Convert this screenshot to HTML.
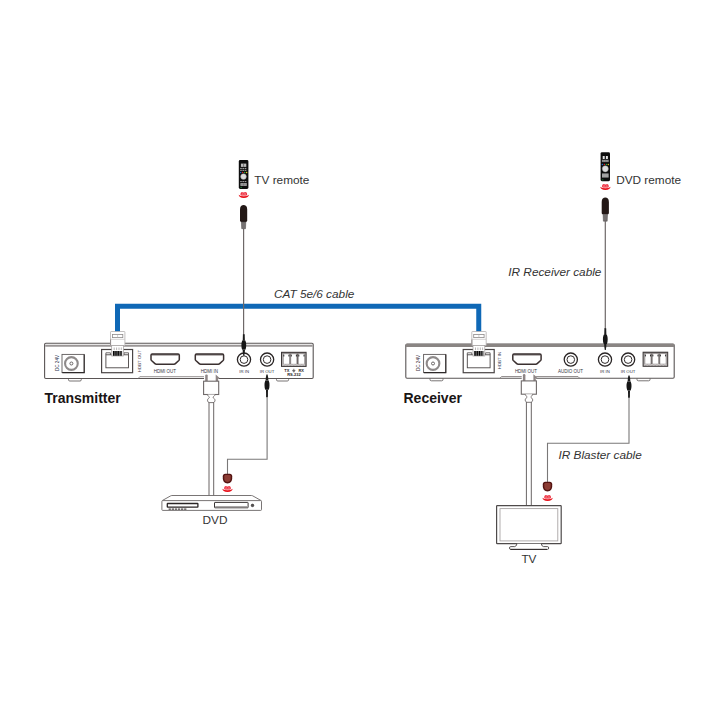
<!DOCTYPE html>
<html><head><meta charset="utf-8">
<style>
html,body{margin:0;padding:0;background:#fff;width:720px;height:720px;overflow:hidden}
svg{display:block}
text{font-family:"Liberation Sans",sans-serif}
</style></head><body>
<svg width="720" height="720" viewBox="0 0 720 720">
<rect width="720" height="720" fill="#fff"/>

<!-- ===== BLUE CAT CABLE ===== -->
<path d="M117.5,332 V306.2 H478.75 V332" fill="none" stroke="#0f68b6" stroke-width="5"/>

<!-- ===== TRANSMITTER ===== -->
<g id="tx">
  <!-- feet -->
  <path d="M68.5,378.5 v1.2 q0,1.3 1.3,1.3 h10.2 q1.3,0 1.3,-1.3 v-1.2" fill="#fff" stroke="#6a6565" stroke-width="0.9"/>
  <path d="M276.5,378.5 v1.2 q0,1.3 1.3,1.3 h9.5 q1.3,0 1.3,-1.3 v-1.2" fill="#fff" stroke="#6a6565" stroke-width="0.9"/>
  <rect x="44.6" y="343.3" width="268.6" height="35.2" rx="1.2" fill="#fff" stroke="#5a5555" stroke-width="1.1"/>
  <line x1="45.2" y1="345.8" x2="312.6" y2="345.8" stroke="#9a9696" stroke-width="1.9"/>
  <!-- bottom recess -->
  <path d="M138.3,378.3 l1.5,-1.6 H216 l1.5,1.6" fill="none" stroke="#8a8585" stroke-width="0.9"/>
  <!-- DC jack -->
  <rect x="62" y="354.4" width="22.2" height="18.2" fill="#fff" stroke="#5e5a5a" stroke-width="0.9"/>
  <path d="M84.2,354.6 V372.6 H62.3" fill="none" stroke="#2e2a2a" stroke-width="1.1"/>
  <circle cx="71.4" cy="363.5" r="6.35" fill="none" stroke="#8e8a8a" stroke-width="2.1"/>
  <circle cx="71.4" cy="363.5" r="1.5" fill="none" stroke="#5a5656" stroke-width="0.9"/>
  <text transform="translate(58.7,363) rotate(-90)" font-size="4.6" fill="#2e3450" text-anchor="middle">DC 24V</text>
  <!-- RJ45 -->
  <rect x="101.6" y="349.5" width="31" height="23.2" fill="#fff" stroke="#4a4545" stroke-width="1.2"/>
  <rect x="105.9" y="354.8" width="22.6" height="13" fill="none" stroke="#4a4545" stroke-width="0.9"/>
  <path d="M105.9,354.8 v-2 h4.5 v2 M128.5,354.8 v-2 h-4.5 v2" fill="none" stroke="#4a4545" stroke-width="0.8"/>
  <text transform="translate(140.8,361) rotate(-90)" font-size="4.4" fill="#3e3040" text-anchor="middle">HDBT OUT</text>
  <!-- RJ45 plug -->
  <use href="#rj45plug" x="0" y="0"/>
  <!-- HDMI OUT -->
  <use href="#hdmiport" x="151" y="0"/>
  <text x="164.8" y="373" font-size="4.5" fill="#34343f" text-anchor="middle">HDMI OUT</text>
  <!-- HDMI IN -->
  <use href="#hdmiport" x="195.3" y="0"/>
  <text x="209.3" y="373" font-size="4.5" fill="#34343f" text-anchor="middle">HDMI IN</text>
  <!-- IR IN / IR OUT -->
  <circle cx="244" cy="359.6" r="6.6" fill="#fff" stroke="#2a2525" stroke-width="1.3"/>
  <circle cx="244" cy="359.6" r="3.8" fill="none" stroke="#302b2b" stroke-width="1"/>
  <text x="244.2" y="373" font-size="4.3" fill="#343445" text-anchor="middle">IR IN</text>
  <circle cx="267.1" cy="359.6" r="6.6" fill="#fff" stroke="#2a2525" stroke-width="1.3"/>
  <circle cx="267.1" cy="359.6" r="3.8" fill="none" stroke="#302b2b" stroke-width="1"/>
  <text x="267" y="373" font-size="4.3" fill="#343445" text-anchor="middle">IR OUT</text>
  <!-- RS232 terminal -->
  <use href="#term" x="281.5" y="352.3"/>
  <text x="286.9" y="371.9" font-size="4" font-weight="bold" fill="#262222" text-anchor="middle">TX</text>
  <path d="M293.8,368.8 v1.6 M292.2,370.4 h3.2 M292.7,371.2 h2.2 M293.2,371.9 h1.2" stroke="#262222" stroke-width="0.6"/>
  <text x="301.2" y="371.9" font-size="4" font-weight="bold" fill="#262222" text-anchor="middle">RX</text>
  <text x="294" y="375.6" font-size="4" font-weight="bold" fill="#262222" text-anchor="middle">RS-232</text>
</g>

<text x="44.5" y="402.5" font-size="14" font-weight="bold" fill="#1a1515">Transmitter</text>

<!-- ===== RECEIVER ===== -->
<g id="rx">
  <path d="M430,378.3 v1.2 q0,1.3 1.3,1.3 h10.4 q1.3,0 1.3,-1.3 v-1.2" fill="#fff" stroke="#6a6565" stroke-width="0.9"/>
  <path d="M637,378.3 v1.2 q0,1.3 1.3,1.3 h10.4 q1.3,0 1.3,-1.3 v-1.2" fill="#fff" stroke="#6a6565" stroke-width="0.9"/>
  <rect x="405.8" y="344" width="268.4" height="34.3" rx="1.2" fill="#fff" stroke="#5a5555" stroke-width="1.1"/>
  <line x1="406" y1="345.4" x2="674" y2="345.4" stroke="#8a8583" stroke-width="3"/>
  <path d="M500,378.1 l1.5,-1.6 H578 l1.5,1.6" fill="none" stroke="#8a8585" stroke-width="0.9"/>
  <!-- DC jack -->
  <rect x="423.6" y="354.4" width="22.2" height="18.2" fill="#fff" stroke="#5e5a5a" stroke-width="0.9"/>
  <path d="M445.8,354.6 V372.6 H423.9" fill="none" stroke="#2e2a2a" stroke-width="1.1"/>
  <circle cx="433.0" cy="363.5" r="6.35" fill="none" stroke="#8e8a8a" stroke-width="2.1"/>
  <circle cx="433.0" cy="363.5" r="1.5" fill="none" stroke="#5a5656" stroke-width="0.9"/>
  <text transform="translate(420,363) rotate(-90)" font-size="4.6" fill="#3e3040" text-anchor="middle">DC 24V</text>
  <!-- RJ45 -->
  <rect x="463.2" y="349.5" width="31" height="23.2" fill="#fff" stroke="#4a4545" stroke-width="1.2"/>
  <rect x="467.3" y="354.8" width="22.8" height="13" fill="none" stroke="#4a4545" stroke-width="0.9"/>
  <path d="M467.3,354.8 v-2 h4.5 v2 M490.1,354.8 v-2 h-4.5 v2" fill="none" stroke="#4a4545" stroke-width="0.8"/>
  <text transform="translate(501.3,360.5) rotate(-90)" font-size="4.4" fill="#2e3450" text-anchor="middle">HDBT IN</text>
  <!-- plug -->
  <use href="#rj45plug" x="361.3" y="0"/>
  <!-- HDMI OUT -->
  <use href="#hdmiport" x="512.8" y="0"/>
  <text x="526" y="373" font-size="4.5" fill="#34343f" text-anchor="middle">HDMI OUT</text>
  <!-- AUDIO OUT -->
  <circle cx="570.8" cy="359.6" r="6.6" fill="#fff" stroke="#2a2525" stroke-width="1.3"/>
  <circle cx="570.8" cy="359.6" r="3.8" fill="none" stroke="#302b2b" stroke-width="1"/>
  <text x="570.6" y="373" font-size="4.5" fill="#34343f" text-anchor="middle">AUDIO OUT</text>
  <circle cx="605" cy="359.6" r="6.6" fill="#fff" stroke="#2a2525" stroke-width="1.3"/>
  <circle cx="605" cy="359.6" r="3.8" fill="none" stroke="#302b2b" stroke-width="1"/>
  <text x="605" y="373" font-size="4.3" fill="#343445" text-anchor="middle">IR IN</text>
  <circle cx="628.1" cy="359.6" r="6.6" fill="#fff" stroke="#2a2525" stroke-width="1.3"/>
  <circle cx="628.1" cy="359.6" r="3.8" fill="none" stroke="#302b2b" stroke-width="1"/>
  <text x="628.1" y="373" font-size="4.3" fill="#343445" text-anchor="middle">IR OUT</text>
  <!-- terminal -->
  <use href="#term" x="643.1" y="352.2"/>
</g>

<text x="403.5" y="402.5" font-size="14" font-weight="bold" fill="#1a1515">Receiver</text>

<defs>
  <g id="hdmiport">
    <path d="M0,355.2 Q0,354.1 1.2,354.1 H27.1 Q28.3,354.1 28.3,355.2 V359.4 Q28.3,360 27.8,360.5 L24.4,363.6 Q23.8,364.2 23,364.2 H5.3 Q4.5,364.2 3.9,363.6 L0.5,360.5 Q0,360 0,359.4 Z" fill="#fff" stroke="#3a3030" stroke-width="1.5"/>
    <path d="M0.8,354.9 H27.5" stroke="#3a3030" stroke-width="0.9"/>
  </g>
  <g id="term">
    <rect x="0" y="0" width="24.6" height="14.1" fill="#b0acac" stroke="#3a3535" stroke-width="1"/>
    <path d="M0.5,0.6 h23.6" stroke="#3a3535" stroke-width="0.6"/>
    <rect x="8" y="1.4" width="1.2" height="10.6" fill="#6a6464"/>
    <rect x="15.5" y="1.4" width="1.2" height="10.6" fill="#6a6464"/>
    <rect x="1.9" y="1.6" width="5.9" height="10.2" fill="#fff" stroke="#8a8585" stroke-width="0.5"/>
    <rect x="9.4" y="1.6" width="5.9" height="10.2" fill="#fff" stroke="#8a8585" stroke-width="0.5"/>
    <rect x="16.9" y="1.6" width="6" height="10.2" fill="#fff" stroke="#8a8585" stroke-width="0.5"/>
    <path d="M2.3,2.4 v1.8 M7.4,2.4 v1.8 M9.8,2.4 v1.8 M14.9,2.4 v1.8 M17.3,2.4 v1.8 M22.5,2.4 v1.8" stroke="#1a1a1a" stroke-width="0.9"/>
    <path d="M1,12.9 q1.6,-1.1 3.2,0 q1.6,-1.1 3.2,0 q1.6,-1.1 3.2,0 q1.6,-1.1 3.2,0 q1.6,-1.1 3.2,0 q1.6,-1.1 3.2,0 q1.6,-1.1 3.2,0" fill="none" stroke="#eeeaea" stroke-width="0.6"/>
  </g>
  <g id="rj45plug">
    <rect x="110.5" y="331.5" width="14.4" height="14" rx="0.6" fill="#fff" stroke="#b4b0b0" stroke-width="0.8"/>
    <rect x="112.4" y="334.4" width="10.4" height="3.2" fill="none" stroke="#8e8a8a" stroke-width="0.8"/>
    <path d="M117.6,334.4 v3.2" stroke="#b0acac" stroke-width="0.6"/>
    <path d="M110.6,339.3 h14.2" stroke="#c4c0c0" stroke-width="0.7"/>
    <path d="M110.6,339.5 v6" stroke="#8a8585" stroke-width="0.9"/>
    <rect x="111.7" y="345.4" width="11.8" height="10.6" fill="#fff" stroke="#a09c9c" stroke-width="0.7"/>
    <path d="M114.2,347.5 v2.6 M116.6,347.5 v2.6 M119,347.5 v2.6 M121.3,347.5 v2.6" stroke="#8a8585" stroke-width="0.6"/>
    <rect x="112.9" y="351" width="9.2" height="4.8" fill="#050505"/>
    <path d="M114.9,351 v4.8 M117.1,351 v4.8 M119.4,351 v4.8 M121,351 v4.8" stroke="#fff" stroke-width="0.45"/>
  </g>
  <g id="remote2">
    <rect x="0" y="0" width="9.4" height="29" rx="1.4" fill="#0e0e0e"/>
    <rect x="2.1" y="3.8" width="2" height="3" fill="#e4e4e4"/>
    <rect x="5.3" y="3.8" width="2" height="3" fill="#e4e4e4"/>
    <rect x="1.3" y="7.5" width="6.8" height="2.4" fill="#777"/>
    <path d="M1.6,8.7 h6.2" stroke="#cfcfcf" stroke-width="0.6" stroke-dasharray="1.2,0.5"/>
    <circle cx="1.8" cy="12.3" r="0.75" fill="#1e70d0"/>
    <circle cx="3.8" cy="12.3" r="0.75" fill="#e02020"/>
    <circle cx="5.8" cy="12.3" r="0.75" fill="#20a040"/>
    <circle cx="7.7" cy="12.3" r="0.75" fill="#e0c020"/>
    <circle cx="4.7" cy="16.6" r="3.1" fill="#dedede" stroke="#888" stroke-width="0.4"/>
    <rect x="1.4" y="21.3" width="6.6" height="4" fill="#b8b8b8"/>
    <path d="M1.4,22.6 h6.6 M1.4,24 h6.6" stroke="#6a6a6a" stroke-width="0.4"/>
    <circle cx="2.2" cy="27.6" r="0.6" fill="#20a040"/>
  </g>
  <g id="remote">
    <rect x="0" y="0" width="9.6" height="29" rx="1.4" fill="#0e0e0e"/>
    <rect x="2.1" y="3.6" width="5.4" height="3.3" fill="#bdbdbd"/>
    <path d="M4.8,3.6 v3.3" stroke="#444" stroke-width="0.6"/>
    <path d="M1.4,8.4 h6.8 M1.4,10.3 h6.8" stroke="#d8d8d8" stroke-width="0.8" stroke-dasharray="1.6,0.6"/>
    <circle cx="1.9" cy="12.5" r="0.75" fill="#1e70d0"/>
    <circle cx="3.9" cy="12.5" r="0.75" fill="#e02020"/>
    <circle cx="5.9" cy="12.5" r="0.75" fill="#20a040"/>
    <circle cx="7.8" cy="12.5" r="0.75" fill="#e0c020"/>
    <circle cx="4.7" cy="16.6" r="2.9" fill="#dcdcdc" stroke="#888" stroke-width="0.4"/>
    <path d="M1.4,21.6 h6.8" stroke="#d0d0d0" stroke-width="0.8" stroke-dasharray="1.6,0.6"/>
    <rect x="1.6" y="23.2" width="6.4" height="2.6" fill="#bbb"/>
    <path d="M1.6,24.5 h6.4 M4.8,23.2 v2.6" stroke="#555" stroke-width="0.4"/>
    <circle cx="2.3" cy="27.3" r="0.6" fill="#20b040"/>
  </g>
  <g id="wave">
    <path d="M-5.1,-0.2 Q-5,2.9 0,2.9 Q5,2.9 5.1,-0.2 Q3.6,1.3 0,1.3 Q-3.6,1.3 -5.1,-0.2 Z" fill="#e8101a"/>
    <path d="M-3.3,0.2 Q-3.6,-3.1 -1.4,-3.1 Q-0.3,-3.1 0,-2.2 Q0.3,-3.1 1.4,-3.1 Q3.6,-3.1 3.3,0.2 Q0,1.2 -3.3,0.2 Z" fill="#ee3040"/>
    <path d="M-2.2,-0.2 Q0,0.6 2.2,-0.2 M-1.8,-1.6 Q-1.2,-2.4 -0.6,-1.6 M0.6,-1.6 Q1.2,-2.4 1.8,-1.6" fill="none" stroke="#ffd0d4" stroke-width="0.6"/>
  </g>
  <g id="bulb">
    <path d="M0,4.4 C0,1.2 1.7,0 3.6,0 C5.5,0 7.2,1.2 7.2,4.4 V15.6 Q7.2,16.9 5.9,16.9 H1.3 Q0,16.9 0,15.6 Z" fill="#231816"/>
    <path d="M1.4,16.9 h4.4 l-0.3,6.8 h-3.8 z" fill="#767272" stroke="#4a4646" stroke-width="0.5"/>
  </g>
  <g id="emitter">
    <path d="M-4.7,2.6 Q-4.7,0 -2.2,0 H2.2 Q4.7,0 4.7,2.6 V4.6 Q4.7,9.7 0,9.7 Q-4.7,9.7 -4.7,4.6 Z" fill="#551412"/>
    <path d="M-3.2,2.6 Q-3.2,1.4 -1.8,1.4 H1.8 Q3.2,1.4 3.2,2.6 V4.8 Q3.2,8.2 0,8.2 Q-3.2,8.2 -3.2,4.8 Z" fill="#8c3c34"/>
  </g>
  <g id="plugdown">
    <!-- plug pointing down; origin at top of strain relief, x centered -->
    <path d="M-0.9,0 h1.8 l0.2,6.6 h-2.2 z" fill="#1c1c1c"/>
    <path d="M-1.6,6.4 h3.2 q0.8,2 0.8,4.6 q0,3 -0.8,4.6 h-3.2 q-0.8,-1.6 -0.8,-4.6 q0,-2.6 0.8,-4.6 z" fill="#161616"/>
    <path d="M-1.2,15.8 h2.4 l-0.3,3.2 l-0.4,2.6 h-1 l-0.4,-2.6 z" fill="#1c1c1c"/>
  </g>
  <g id="plugup">
    <path d="M-0.6,0 h1.2 l0.5,2.6 l0.3,3.4 h-2.8 l0.3,-3.4 z" fill="#1c1c1c"/>
    <path d="M-1.7,6 h3.4 q0.8,2 0.8,4.6 q0,2.6 -0.8,4.6 h-3.4 q-0.8,-2 -0.8,-4.6 q0,-2.6 0.8,-4.6 z" fill="#161616"/>
    <path d="M-1,15.2 h2 l-0.1,7.4 h-1.8 z" fill="#1c1c1c"/>
  </g>
</defs>

<!-- ===== TV remote (transmitter side) ===== -->
<use href="#remote" x="238.8" y="160"/>
<use href="#wave" x="243.8" y="195"/>
<text x="254.3" y="184.1" font-size="11.8" fill="#333">TV remote</text>
<use href="#bulb" x="240" y="205"/>
<line x1="243.6" y1="228" x2="243.6" y2="335" stroke="#6e6868" stroke-width="1.2"/>
<use href="#plugdown" x="243.8" y="334.2"/>

<!-- ===== DVD remote (receiver side) ===== -->
<use href="#remote2" x="600.6" y="152.2"/>
<use href="#wave" x="605.4" y="187"/>
<text x="616.2" y="184.4" font-size="11.8" fill="#333">DVD remote</text>
<use href="#bulb" x="601.7" y="197.5"/>
<line x1="605.3" y1="220" x2="605.3" y2="329" stroke="#6e6868" stroke-width="1.2"/>
<use href="#plugdown" x="605.3" y="328.3"/>
<text x="508.3" y="276.3" font-size="11.8" font-style="italic" fill="#333">IR Receiver cable</text>

<text x="273.9" y="298.3" font-size="11.8" font-style="italic" fill="#333">CAT 5e/6 cable</text>

<!-- ===== IR OUT (TX) -> DVD emitter ===== -->
<use href="#plugup" x="267" y="374.6"/>
<path d="M267.1,397 V459.2 H227.5 V474" fill="none" stroke="#7a7878" stroke-width="1.1"/>
<use href="#emitter" x="227.5" y="473.7"/>
<use href="#wave" x="227.5" y="489"/>

<!-- ===== IR OUT (RX) -> TV emitter ===== -->
<use href="#plugup" x="629" y="375.4"/>
<path d="M629,397 V443.3 H547.5 V482" fill="none" stroke="#7a7878" stroke-width="1.1"/>
<use href="#emitter" x="547.5" y="481.7"/>
<use href="#wave" x="547.6" y="498"/>
<text x="558.5" y="458.9" font-size="11.8" font-style="italic" fill="#333">IR Blaster cable</text>

<!-- ===== HDMI cable TX -> DVD ===== -->
<g id="hdmiplug-tx">
  <rect x="204" y="374.6" width="14.4" height="6.6" fill="#fff"/>
  <path d="M205.2,381.2 v-5.6 q0,-1.2 1.25,-1.2 q1.25,0 1.25,1.2 v5.6 z" fill="#8e8686"/>
  <path d="M215.7,381.2 v-6.6 l3.9,3.3 l-1.5,0.3 v3 z" fill="#8e8686"/>
  <rect x="203.6" y="381.2" width="15.1" height="13.3" fill="#fff" stroke="#6e6868" stroke-width="1.1"/>
  <path d="M207.6,394.6 C207.6,396.2 209.4,396.5 209.4,397.3 C209.4,398.1 207.5,398.6 207.5,400.2 C207.5,401.8 208.7,402.6 209.3,402.6 H213.2 C213.8,402.6 215,401.8 215,400.2 C215,398.6 213.1,398.1 213.1,397.3 C213.1,396.5 214.9,396.2 214.9,394.6" fill="#fff" stroke="#6e6868" stroke-width="0.9"/>
</g>
<path d="M209,402 V496 M213.7,402 V496" stroke="#6a6565" stroke-width="1"/>

<!-- ===== HDMI cable RX -> TV ===== -->
<use href="#hdmiplug-tx" x="317.7" y="-0.3"/>
<path d="M526.4,402 V505.5 M531.3,402 V505.5" stroke="#6a6565" stroke-width="1"/>

<!-- ===== DVD player ===== -->
<path d="M162.2,500.6 L170.6,495.9 q0.6,-0.4 1.4,-0.4 H251.4 q0.8,0 1.4,0.4 L261.2,500.6" fill="#fff" stroke="#6a6565" stroke-width="0.9"/>
<rect x="161.9" y="500.6" width="99.6" height="9.8" rx="0.8" fill="#fff" stroke="#6a6565" stroke-width="0.9"/>
<rect x="167.3" y="503.5" width="30.6" height="3.6" rx="0.4" fill="#fff" stroke="#2a2525" stroke-width="1.3"/>
<path d="M168.6,509.1 h18.6" stroke="#4a4545" stroke-width="1.3" stroke-dasharray="2.3,0.8"/>
<rect x="214.5" y="502.4" width="33.6" height="5.4" rx="0.4" fill="#fff" stroke="#3a3535" stroke-width="1"/>
<path d="M215.2,506.9 H247.4" stroke="#8e8a8a" stroke-width="1.3"/>
<circle cx="252.5" cy="505.4" r="1.3" fill="#555" stroke="#2a2525" stroke-width="0.6"/>
<text x="202.5" y="524.4" font-size="11.8" fill="#333">DVD</text>

<!-- ===== TV ===== -->
<rect x="496.6" y="505.7" width="64.6" height="37.9" rx="0.6" fill="#fff" stroke="#4e4a4a" stroke-width="1.2"/>
<rect x="500" y="508.6" width="57.8" height="32.3" fill="none" stroke="#a8a4a4" stroke-width="0.9"/>
<path d="M516.9,543.7 q0,2.3 -2.2,2.9 h-4 q-1.2,0 -1.2,1.4 q0,1.4 1.2,1.4 h36.8 q1.2,0 1.2,-1.4 q0,-1.4 -1.2,-1.4 h-4 q-2.2,-0.6 -2.2,-2.9" fill="#fff" stroke="#4a4545" stroke-width="0.9"/>
<path d="M510.4,549.4 h36.6" stroke="#2a2525" stroke-width="0.9"/>
<text x="521.4" y="563.3" font-size="11.8" fill="#333">TV</text>

</svg>
</body></html>
